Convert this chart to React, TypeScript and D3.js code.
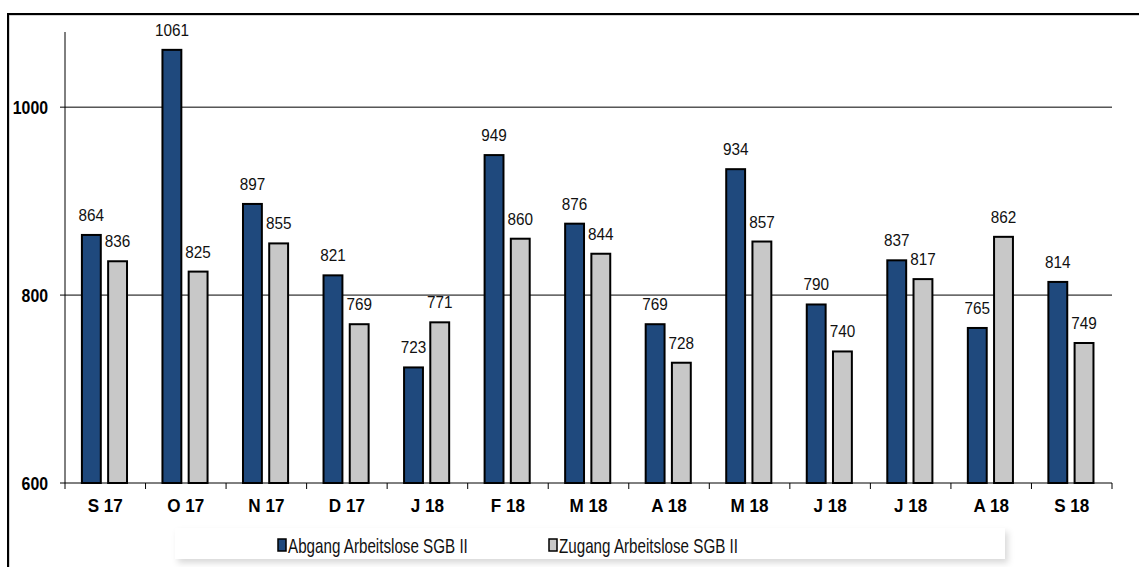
import React from "react";
import * as d3 from "d3";

const categories = ["S 17", "O 17", "N 17", "D 17", "J 18", "F 18", "M 18", "A 18", "M 18", "J 18", "J 18", "A 18", "S 18"];
const abgang = [864, 1061, 897, 821, 723, 949, 876, 769, 934, 790, 837, 765, 814];
const zugang = [836, 825, 855, 769, 771, 860, 844, 728, 857, 740, 817, 862, 749];
const yTicks = [600, 800, 1000];
const seriesNames = ["Abgang Arbeitslose SGB II", "Zugang Arbeitslose SGB II"];
const seriesColors = ["#1f497d", "#c8c8c8"];

export default function App() {
  const W = 1139, H = 567;
  const left = 65, right = 1112, top = 32, bottom = 483;
  const idx = categories.map((_, i) => i);
  const x0 = d3.scaleBand<number>().domain(idx).range([left, right]).padding(0);
  const bw = x0.bandwidth();
  const x1 = d3.scaleBand<number>().domain([0, 1]).range([bw * 0.21, bw * 0.77]).paddingInner(0.28);
  const y = d3.scaleLinear().domain([600, 1080]).range([bottom, top]);
  const series = [abgang, zugang];
  const font = "'Liberation Sans', Arial, sans-serif";

  const sx = (x: number, yy: number, s: number) => `translate(${x},${yy}) scale(${s},1)`;

  return (
    <svg width={W} height={H} style={{ position: "absolute", left: 0, top: 0, background: "#fff" }}>
      <defs>
        <filter id="sh" x="-5%" y="-50%" width="110%" height="200%">
          <feDropShadow dx="3" dy="4" stdDeviation="3" floodColor="#000" floodOpacity="0.15" />
        </filter>
      </defs>
      {/* frame */}
      <path d={`M9,567 V15 H1139`} stroke="#aaa" strokeWidth={1} fill="none" />
      <path d={`M8,567 V14 H1139`} stroke="#000" strokeWidth={2} fill="none" />
      {/* gridlines */}
      {yTicks.filter(t => t > 600).map(t => (
        <line key={t} x1={left} x2={right} y1={y(t)} y2={y(t)} stroke="#000" strokeWidth={1} />
      ))}
      {/* y axis */}
      <line x1={left} x2={left} y1={top} y2={bottom} stroke="#000" strokeWidth={1} />
      {yTicks.map(t => (
        <g key={t}>
          <line x1={left - 5} x2={left} y1={y(t)} y2={y(t)} stroke="#000" />
          <text transform={sx(left - 17, y(t) + 7, 0.88)} textAnchor="end" fontFamily={font} fontWeight="bold" fontSize={18}>{t}</text>
        </g>
      ))}
      {/* x axis */}
      <line x1={left} x2={right} y1={bottom} y2={bottom} stroke="#000" strokeWidth={1} />
      {idx.map(i => (
        <line key={i} x1={x0(i)!} x2={x0(i)!} y1={bottom} y2={bottom + 6} stroke="#000" />
      ))}
      <line x1={right} x2={right} y1={bottom} y2={bottom + 6} stroke="#000" />
      {idx.map(i => (
        <text key={i} transform={sx(x0(i)! + bw / 2, 512, 0.95)} textAnchor="middle" fontFamily={font} fontWeight="bold" fontSize={18}>{categories[i]}</text>
      ))}
      {/* bars */}
      {idx.map(i => (
        <g key={i} transform={`translate(${x0(i)},0)`}>
          {series.map((s, k) => (
            <g key={k}>
              <rect x={x1(k)!} y={y(s[i])} width={x1.bandwidth()} height={bottom - y(s[i])} fill={seriesColors[k]} stroke="#000" strokeWidth={2} />
              <text transform={sx(x1(k)! + x1.bandwidth() / 2, y(s[i]) - 14, 0.9)} textAnchor="middle" fontFamily={font} fontSize={17} fill="#111">{s[i]}</text>
            </g>
          ))}
        </g>
      ))}
      {/* legend */}
      <rect x={175} y={528} width={830} height={31} fill="#fff" filter="url(#sh)" />
      {seriesNames.map((n, k) => {
        const lx = k === 0 ? 278 : 549;
        return (
          <g key={k}>
            <rect x={lx} y={539} width={8} height={12} fill={seriesColors[k]} stroke="#000" strokeWidth={1.5} />
            <text transform={sx(lx + 10, 553, 0.76)} fontFamily={font} fontSize={20} fill="#111">{n}</text>
          </g>
        );
      })}
    </svg>
  );
}
